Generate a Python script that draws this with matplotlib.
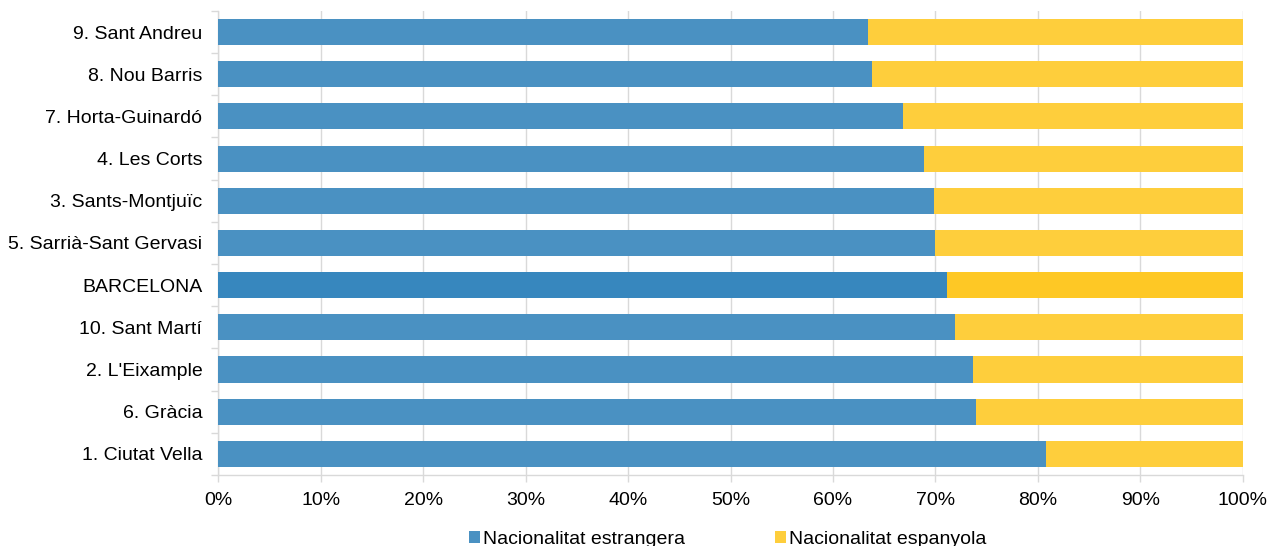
import matplotlib.pyplot as plt
from matplotlib.ticker import PercentFormatter

districts = ['1. Ciutat Vella', '6. Gràcia', "2. L'Eixample", '10. Sant Martí', 'BARCELONA',
             '5. Sarrià-Sant Gervasi', '3. Sants-Montjuïc', '4. Les Corts', '7. Horta-Guinardó',
             '8. Nou Barris', '9. Sant Andreu']
estrangera = [80.8, 74.0, 73.7, 71.9, 71.1, 70.0, 69.9, 68.9, 66.8, 63.8, 63.4]
espanyola = [100 - v for v in estrangera]

plt.rcParams['font.family'] = ['Liberation Sans', 'DejaVu Sans']

fig = plt.figure(figsize=(12.8, 5.46), dpi=100)
ax = fig.add_axes([0.1705, 0.130, 0.8005, 0.850])

blue = ['#3787BE' if d == 'BARCELONA' else '#4A91C2' for d in districts]
yellow = ['#FEC825' if d == 'BARCELONA' else '#FECE3C' for d in districts]
y = range(len(districts))
ax.barh(y, estrangera, height=0.62, color=blue, label='Nacionalitat estrangera', zorder=3)
ax.barh(y, espanyola, left=estrangera, height=0.62, color=yellow,
        label='Nacionalitat espanyola', zorder=3)

ax.set_xlim(0, 100)
ax.set_ylim(-0.5, len(districts) - 0.5)
ax.set_xticks(range(0, 101, 10))
ax.xaxis.set_major_formatter(PercentFormatter(decimals=0))
ax.set_yticks(list(y))
ax.set_yticklabels(districts)
ax.set_yticks([i - 0.5 for i in range(len(districts) + 1)], minor=True)
ax.tick_params(axis='y', which='major', length=0, pad=11.5, labelsize=14)
ax.tick_params(axis='y', which='minor', length=5, color='#d9d9d9', width=1)
ax.tick_params(axis='x', length=5, color='#d9d9d9', width=1, labelsize=14, pad=7)
ax.grid(axis='x', color='#d9d9d9', linewidth=1, zorder=0)

for side in ['top', 'right']:
    ax.spines[side].set_visible(False)
for side in ['left', 'bottom']:
    ax.spines[side].set_color('#d9d9d9')
    ax.spines[side].set_linewidth(1)

handles, labels = ax.get_legend_handles_labels()
fig.legend(handles, labels, loc='lower center', bbox_to_anchor=(0.5685, -0.036), ncol=2,
           frameon=False, fontsize=14, handlelength=0.6, handleheight=0.6,
           handletextpad=0.15, columnspacing=4.6)

fig.savefig('out.png', dpi=100)
